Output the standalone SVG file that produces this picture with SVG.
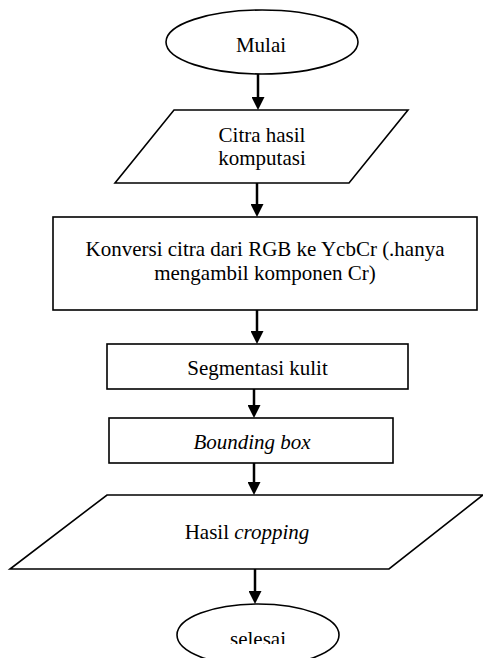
<svg xmlns="http://www.w3.org/2000/svg" width="483" height="658" viewBox="0 0 483 658">
<style>
.s{fill:#fff;stroke:#000;stroke-width:1.6}
.t{font-family:'Liberation Serif','DejaVu Serif','Times New Roman',serif;font-size:21px;fill:#000;text-anchor:middle}
.i{font-style:italic}
.c{fill:none;stroke:#000;stroke-width:2.5}
</style>
<defs>
<marker id="ah" viewBox="0 0 13 13" refX="5" refY="6.5" markerWidth="13" markerHeight="13" markerUnits="userSpaceOnUse" orient="auto">
<path d="M0,0 L13,6.5 L0,13 z" fill="#000"/>
</marker>
<clipPath id="cl"><rect x="0" y="0" width="483" height="644"/></clipPath>
</defs>
<rect width="483" height="658" fill="#fff"/>
<g id="connectors">
<path class="c" d="M258,74 V102" marker-end="url(#ah)"/>
<path class="c" d="M257,183 V209" marker-end="url(#ah)"/>
<path class="c" d="M257,310 V336" marker-end="url(#ah)"/>
<path class="c" d="M254,389 V410" marker-end="url(#ah)"/>
<path class="c" d="M254,463 V487" marker-end="url(#ah)"/>
<path class="c" d="M255,569 V596" marker-end="url(#ah)"/>
</g>
<g id="mulai">
<ellipse class="s" cx="262" cy="42" rx="96" ry="32"/>
<text class="t" x="261" y="52" font-family="Liberation Serif, serif">Mulai</text>
</g>
<g id="citra">
<polygon class="s" points="174,110 408,110 349,183 115,183"/>
<text class="t" x="262" y="142" font-family="Liberation Serif, serif">Citra hasil</text>
<text class="t" x="262" y="165" font-family="Liberation Serif, serif">komputasi</text>
</g>
<g id="konversi">
<rect class="s" x="53" y="217" width="424" height="93"/>
<text class="t" x="265" y="256" font-family="Liberation Serif, serif">Konversi citra dari RGB ke YcbCr (.hanya</text>
<text class="t" x="265" y="280" font-family="Liberation Serif, serif">mengambil komponen Cr)</text>
</g>
<g id="segmentasi">
<rect class="s" x="107" y="344" width="301" height="45"/>
<text class="t" x="257.5" y="375" font-family="Liberation Serif, serif">Segmentasi kulit</text>
</g>
<g id="bounding">
<rect class="s" x="109" y="418" width="284" height="45"/>
<text class="t i" x="252" y="449" font-family="Liberation Serif, serif">Bounding box</text>
</g>
<g id="hasil">
<polygon class="s" points="107,495 483,495 389,569 10,569"/>
<text class="t" x="247" y="539" font-family="Liberation Serif, serif">Hasil <tspan class="i">cropping</tspan></text>
</g>
<g id="selesai">
<ellipse class="s" cx="258" cy="635" rx="81" ry="31"/>
<text class="t" x="258" y="646" font-family="Liberation Serif, serif" clip-path="url(#cl)">selesai</text>
</g>
</svg>
